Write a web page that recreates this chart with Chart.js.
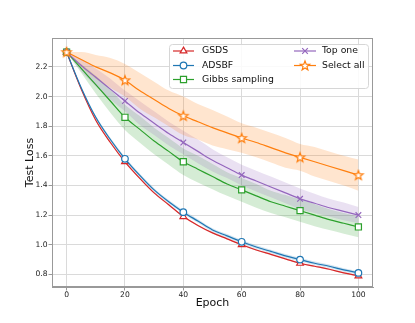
<!DOCTYPE html>
<html lang="en">
<head>
    <meta charset="UTF-8">
    <title>Test Loss vs Epoch</title>
    <script src="https://cdn.jsdelivr.net/npm/chart.js"></script>
    <style>
        body { margin: 0; background: #ffffff; }
        #wrap { width: 415px; height: 323px; }
    </style>
</head>
<body>
<div id="wrap"><canvas id="lossChart" width="415" height="323"></canvas></div>
<script>
    // valores, cada 5 epocas
    const epochs = [0, 5, 10, 15, 20, 25, 30, 35, 40, 45, 50, 55, 60, 65, 70, 75, 80, 85, 90, 95, 100];

    const gsds      = [2.30, 2.05, 1.84, 1.69, 1.56, 1.45, 1.35, 1.27, 1.19, 1.13, 1.08, 1.04, 1.00, 0.965, 0.935, 0.905, 0.875, 0.855, 0.835, 0.81, 0.79];
    const gsdsStd   = [0, 0.004, 0.005, 0.005, 0.005, 0.005, 0.005, 0.005, 0.005, 0.005, 0.005, 0.005, 0.005, 0.005, 0.005, 0.005, 0.005, 0.005, 0.005, 0.005, 0.005];
    const adsbf     = [2.30, 2.06, 1.86, 1.71, 1.58, 1.47, 1.37, 1.29, 1.22, 1.16, 1.10, 1.06, 1.02, 0.985, 0.955, 0.925, 0.90, 0.875, 0.855, 0.83, 0.81];
    const adsbfStd  = [0, 0.008, 0.01, 0.012, 0.012, 0.012, 0.012, 0.012, 0.012, 0.012, 0.012, 0.012, 0.012, 0.012, 0.012, 0.012, 0.012, 0.012, 0.012, 0.012, 0.012];
    const gibbs     = [2.30, 2.19, 2.08, 1.97, 1.86, 1.78, 1.70, 1.63, 1.56, 1.51, 1.46, 1.41, 1.37, 1.33, 1.29, 1.26, 1.23, 1.20, 1.17, 1.145, 1.12];
    const gibbsStd  = [0, 0.03, 0.06, 0.08, 0.085, 0.09, 0.09, 0.09, 0.09, 0.09, 0.085, 0.08, 0.08, 0.08, 0.075, 0.075, 0.075, 0.075, 0.07, 0.07, 0.07];
    const topOne    = [2.30, 2.21, 2.13, 2.05, 1.97, 1.89, 1.82, 1.75, 1.69, 1.63, 1.57, 1.52, 1.47, 1.43, 1.39, 1.35, 1.31, 1.28, 1.25, 1.225, 1.20];
    const topOneStd = [0, 0.04, 0.06, 0.07, 0.07, 0.08, 0.08, 0.08, 0.08, 0.08, 0.075, 0.07, 0.07, 0.07, 0.07, 0.07, 0.07, 0.065, 0.06, 0.06, 0.055];
    const selAll    = [2.30, 2.25, 2.20, 2.16, 2.11, 2.04, 1.98, 1.92, 1.87, 1.83, 1.79, 1.755, 1.72, 1.69, 1.655, 1.62, 1.59, 1.56, 1.53, 1.50, 1.47];
    const selAllStd = [0, 0.05, 0.08, 0.10, 0.11, 0.12, 0.12, 0.12, 0.13, 0.12, 0.12, 0.11, 0.10, 0.10, 0.10, 0.10, 0.09, 0.10, 0.10, 0.10, 0.105];

    const xTicks = [0, 20, 40, 60, 80, 100];
    const yTicks = [0.8, 1.0, 1.2, 1.4, 1.6, 1.8, 2.0, 2.2];

    const markerEvery = 4; // un marcador cada 20 epocas

    // estrella estilo matplotlib, relleno blanco
    function starPath(ctx, x, y, R) {
        const r = R * 0.42;
        ctx.beginPath();
        for (let i = 0; i < 10; i++) {
            const a = -Math.PI / 2 + i * Math.PI / 5;
            const rr = i % 2 ? r : R;
            ctx.lineTo(x + rr * Math.cos(a), y + rr * Math.sin(a));
        }
        ctx.closePath();
    }

    function makeStar(color) {
        const c = document.createElement('canvas');
        c.width = 14; c.height = 14;
        const g = c.getContext('2d');
        starPath(g, 7, 7.4, 4.9);
        g.fillStyle = '#ffffff';
        g.fill();
        g.lineWidth = 1.2;
        g.strokeStyle = color;
        g.stroke();
        return c;
    }

    const series = [
        { label: 'GSDS', mean: gsds, std: gsdsStd, color: '#d62728', style: 'triangle', r: 3.9 },
        { label: 'ADSBF', mean: adsbf, std: adsbfStd, color: '#1f77b4', style: 'circle', r: 3.3 },
        { label: 'Gibbs sampling', mean: gibbs, std: gibbsStd, color: '#2ca02c', style: 'rect', r: 4.3 },
        { label: 'Top one', mean: topOne, std: topOneStd, color: '#9467bd', style: 'crossRot', r: 4 },
        { label: 'Select all', mean: selAll, std: selAllStd, color: '#ff7f0e', style: 'star', r: 4 }
    ];

    function hexAlpha(hex, a) {
        const n = parseInt(hex.slice(1), 16);
        return `rgba(${(n >> 16) & 255}, ${(n >> 8) & 255}, ${n & 255}, ${a})`;
    }

    const datasets = [];
    series.forEach((s, i) => {
        // banda (media +- std)
        datasets.push({
            data: epochs.map((e, k) => ({ x: e, y: s.mean[k] + s.std[k] })),
            borderWidth: 0, pointRadius: 0, fill: '+1', cubicInterpolationMode: 'monotone',
            backgroundColor: hexAlpha(s.color, 0.2), order: 30 - i
        });
        datasets.push({
            data: epochs.map((e, k) => ({ x: e, y: s.mean[k] - s.std[k] })),
            borderWidth: 0, pointRadius: 0, fill: false, cubicInterpolationMode: 'monotone',
            order: 30 - i
        });
    });
    series.forEach((s, i) => {
        const ps = s.style === 'star' ? makeStar(s.color) : s.style;
        datasets.push({
            label: s.label,
            data: epochs.map((e, k) => ({ x: e, y: s.mean[k] })),
            borderColor: s.color,
            borderWidth: 1.2,
            backgroundColor: '#ffffff',
            pointStyle: ps,
            pointRadius: epochs.map((e, k) => k % markerEvery === 0 ? s.r : 0),
            pointBorderWidth: 1.2,
            pointBorderColor: s.color,
            pointBackgroundColor: '#ffffff',
            fill: false,
            cubicInterpolationMode: 'monotone',
            order: 15 - i
        });
    });

    function drawMarker(ctx, s, x, y) {
        ctx.save();
        ctx.lineWidth = 1.2;
        ctx.strokeStyle = s.color;
        ctx.fillStyle = '#ffffff';
        ctx.beginPath();
        if (s.style === 'circle') {
            ctx.arc(x, y, s.r, 0, Math.PI * 2);
        } else if (s.style === 'rect') {
            const h = s.r * Math.SQRT1_2;
            ctx.rect(x - h, y - h, 2 * h, 2 * h);
        } else if (s.style === 'triangle') {
            for (let i = 0; i < 3; i++) {
                const a = -Math.PI / 2 + i * 2 * Math.PI / 3;
                ctx.lineTo(x + s.r * Math.cos(a), y + s.r * Math.sin(a));
            }
            ctx.closePath();
        } else if (s.style === 'crossRot') {
            const h = s.r * Math.SQRT1_2;
            ctx.moveTo(x - h, y - h); ctx.lineTo(x + h, y + h);
            ctx.moveTo(x + h, y - h); ctx.lineTo(x - h, y + h);
            ctx.stroke();
            ctx.restore();
            return;
        } else if (s.style === 'star') {
            starPath(ctx, x, y + 0.4, 4.9);
        }
        ctx.fill();
        ctx.stroke();
        ctx.restore();
    }

    const framePlugin = {
        id: 'frame',
        afterDraw(chart) {
            const { ctx, chartArea: a } = chart;
            ctx.save();
            ctx.strokeStyle = '#999999';
            ctx.lineWidth = 1;
            ctx.strokeRect(Math.round(a.left) + 0.5, Math.round(a.top) + 0.5,
                Math.round(a.right - a.left) - 1, Math.round(a.bottom - a.top) - 1);

            // leyenda en dos columnas
            const bx = a.right - 204, by = a.top + 6, bw = 199, bh = 44;
            ctx.beginPath();
            ctx.roundRect(bx + 0.5, by + 0.5, bw, bh, 3);
            ctx.fillStyle = 'rgba(255,255,255,0.85)';
            ctx.fill();
            ctx.strokeStyle = '#d6d6d6';
            ctx.stroke();

            ctx.font = '9.3px "DejaVu Sans"';
            ctx.textBaseline = 'middle';
            ctx.textAlign = 'left';
            const rows = [7, 21.5, 35.5];
            const cols = [{ x0: 4, x1: 25, tx: 33 }, { x0: 125, x1: 147, tx: 153 }];
            series.forEach((s, i) => {
                const col = cols[i < 3 ? 0 : 1];
                const y = by + rows[i < 3 ? i : i - 3];
                ctx.beginPath();
                ctx.strokeStyle = s.color;
                ctx.lineWidth = 1.2;
                ctx.moveTo(bx + col.x0, y);
                ctx.lineTo(bx + col.x1, y);
                ctx.stroke();
                drawMarker(ctx, s, bx + (col.x0 + col.x1) / 2, y);
                ctx.fillStyle = '#111111';
                ctx.fillText(s.label, bx + col.tx, y);
            });
            ctx.restore();
        }
    };

    const ctx = document.getElementById('lossChart').getContext('2d');
    new Chart(ctx, {
        type: 'line',
        data: { datasets: datasets },
        options: {
            responsive: false,
            animation: false,
            events: [],
            layout: { padding: { left: 0, top: 38, right: 42, bottom: 0 } },
            plugins: { legend: { display: false }, tooltip: { enabled: false } },
            scales: {
                x: {
                    type: 'linear', min: -5, max: 105,
                    afterBuildTicks: (scale) => { scale.ticks = xTicks.map(v => ({ value: v })); },
                    afterFit: (scale) => { scale.height = 36; },
                    grid: { color: '#dadada', tickColor: '#999999', tickLength: 3.5 },
                    border: { color: '#999999' },
                    ticks: {
                        color: '#222222', padding: 0, maxRotation: 0,
                        font: { family: 'DejaVu Sans', size: 7.6 },
                        callback: (v) => String(v)
                    },
                    title: {
                        display: true, text: 'Epoch', color: '#111111',
                        font: { family: 'DejaVu Sans', size: 11 },
                        padding: { top: 0, bottom: 13 }
                    }
                },
                y: {
                    type: 'linear', min: 0.715, max: 2.395,
                    afterBuildTicks: (scale) => { scale.ticks = yTicks.map(v => ({ value: v })); },
                    afterFit: (scale) => { scale.width = 52; },
                    grid: { color: '#dadada', tickColor: '#999999', tickLength: 3.5 },
                    border: { color: '#999999' },
                    ticks: {
                        color: '#222222', padding: 1,
                        font: { family: 'DejaVu Sans', size: 7.6 },
                        callback: (v) => v.toFixed(1)
                    },
                    title: {
                        display: true, text: 'Test Loss', color: '#111111',
                        font: { family: 'DejaVu Sans', size: 11 },
                        padding: { top: 24, bottom: 0 }
                    }
                }
            }
        },
        plugins: [framePlugin]
    });
</script>
</body>
</html>
